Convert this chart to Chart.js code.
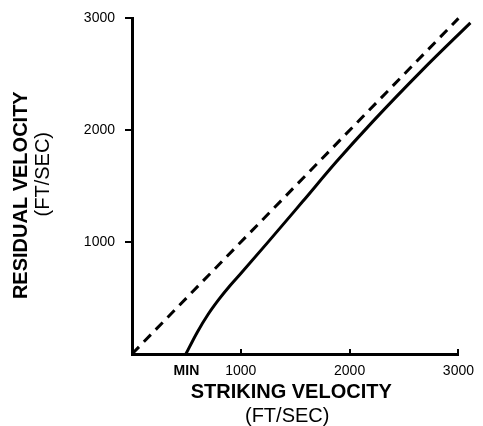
<!DOCTYPE html>
<html>
<head>
<meta charset="utf-8">
<script src="https://cdn.jsdelivr.net/npm/chart.js@4.4.0/dist/chart.umd.min.js"></script>
<style>
html,body{margin:0;padding:0;background:#fff;}
#wrap{width:483px;height:426px;position:relative;}
</style>
</head>
<body>
<div id="wrap"><canvas id="c" width="483" height="426"></canvas></div>
<script>
// ---- data ----
const xTickValues = [500, 1000, 2000, 3000];
const xTickLabels = ['MIN', '1000', '2000', '3000'];
const yTickValues = [1000, 2000, 3000];
const yTickLabels = ['1000', '2000', '3000'];

// solid curve: residual velocity vs striking velocity
const strikingVelocity = [495, 600, 700, 800, 900, 1000, 1250, 1570, 1880, 2210, 2670, 3110];
const residualVelocity = [0, 195, 355, 490, 610, 720, 1000, 1365, 1720, 2075, 2540, 2960];

// dashed reference line (residual = striking)
const limitStriking = [0, 3000];
const limitResidual = [0, 3000];

const xTitle = ['STRIKING VELOCITY', '(FT/SEC)'];
const yTitle = ['RESIDUAL VELOCITY', '(FT/SEC)'];

const FAMILY = '"Liberation Sans", Arial, Helvetica, sans-serif';

const toPoints = (xs, ys) => xs.map((x, i) => ({x: x, y: ys[i]}));

const titlesPlugin = {
  id: 'titlesPlugin',
  afterDraw(chart) {
    const ctx = chart.ctx;
    const xs = chart.scales.x, ys = chart.scales.y;
    ctx.save();
    // small inward tick marks on the x axis
    ctx.strokeStyle = '#000';
    ctx.lineWidth = 2;
    [1000, 2000, 3000].forEach(v => {
      const px = Math.round(xs.getPixelForValue(v));
      ctx.beginPath();
      ctx.moveTo(px, ys.bottom);
      ctx.lineTo(px, ys.bottom - 5);
      ctx.stroke();
    });
    ctx.fillStyle = '#000';
    ctx.textAlign = 'center';
    ctx.textBaseline = 'middle';
    const cx = (xs.left + xs.right) / 2;
    ctx.font = 'bold 20px ' + FAMILY;
    ctx.fillText(xTitle[0], cx - 4, ys.bottom + 38);
    ctx.font = '20px ' + FAMILY;
    ctx.fillText(xTitle[1], cx - 8, ys.bottom + 62);

    const cy = (ys.top + ys.bottom) / 2;
    ctx.save();
    ctx.translate(21, cy + 9);
    ctx.rotate(-Math.PI / 2);
    ctx.font = 'bold 20px ' + FAMILY;
    ctx.fillText(yTitle[0], 0, 0);
    ctx.restore();
    ctx.save();
    ctx.translate(43, cy - 12);
    ctx.rotate(-Math.PI / 2);
    ctx.font = '20px ' + FAMILY;
    ctx.fillText(yTitle[1], 0, 0);
    ctx.restore();
    ctx.restore();
  }
};

new Chart(document.getElementById('c'), {
  type: 'scatter',
  data: {
    datasets: [
      {
        data: toPoints(limitStriking, limitResidual),
        showLine: true,
        borderColor: '#000',
        borderWidth: 3,
        borderDash: [10, 7],
        pointRadius: 0,
        clip: false
      },
      {
        data: toPoints(strikingVelocity, residualVelocity),
        showLine: true,
        borderColor: '#000',
        borderWidth: 3,
        pointRadius: 0,
        cubicInterpolationMode: 'monotone',
        clip: false
      }
    ]
  },
  options: {
    responsive: false,
    devicePixelRatio: 1,
    animation: false,
    layout: { padding: { left: 0, right: 18, top: 17, bottom: 0 } },
    plugins: { legend: { display: false }, tooltip: { enabled: false } },
    scales: {
      x: {
        type: 'linear',
        min: 0,
        max: 3000,
        afterFit: s => { s.height = 72; },
        afterBuildTicks: s => { s.ticks = xTickValues.map(v => ({value: v})); },
        border: { display: true, color: '#000', width: 3 },
        grid: { display: true, drawOnChartArea: false, drawTicks: false, color: '#000' },
        ticks: {
          autoSkip: false,
          maxRotation: 0,
          padding: 9,
          color: '#000',
          font: c => ({ family: FAMILY, size: 14, weight: (c.tick && c.tick.value === 500) ? 'bold' : 'normal' }),
          callback: v => xTickLabels[xTickValues.indexOf(v)]
        }
      },
      y: {
        type: 'linear',
        min: 0,
        max: 3000,
        afterFit: s => { s.width = 132; },
        afterBuildTicks: s => { s.ticks = yTickValues.map(v => ({value: v})); },
        border: { display: true, color: '#000', width: 3 },
        grid: { display: true, drawOnChartArea: false, drawTicks: true, tickLength: 7, color: '#000', lineWidth: 2 },
        ticks: {
          autoSkip: false,
          padding: 10,
          color: '#000',
          font: { family: FAMILY, size: 14 },
          callback: v => yTickLabels[yTickValues.indexOf(v)]
        }
      }
    }
  },
  plugins: [titlesPlugin]
});
</script>
</body>
</html>
